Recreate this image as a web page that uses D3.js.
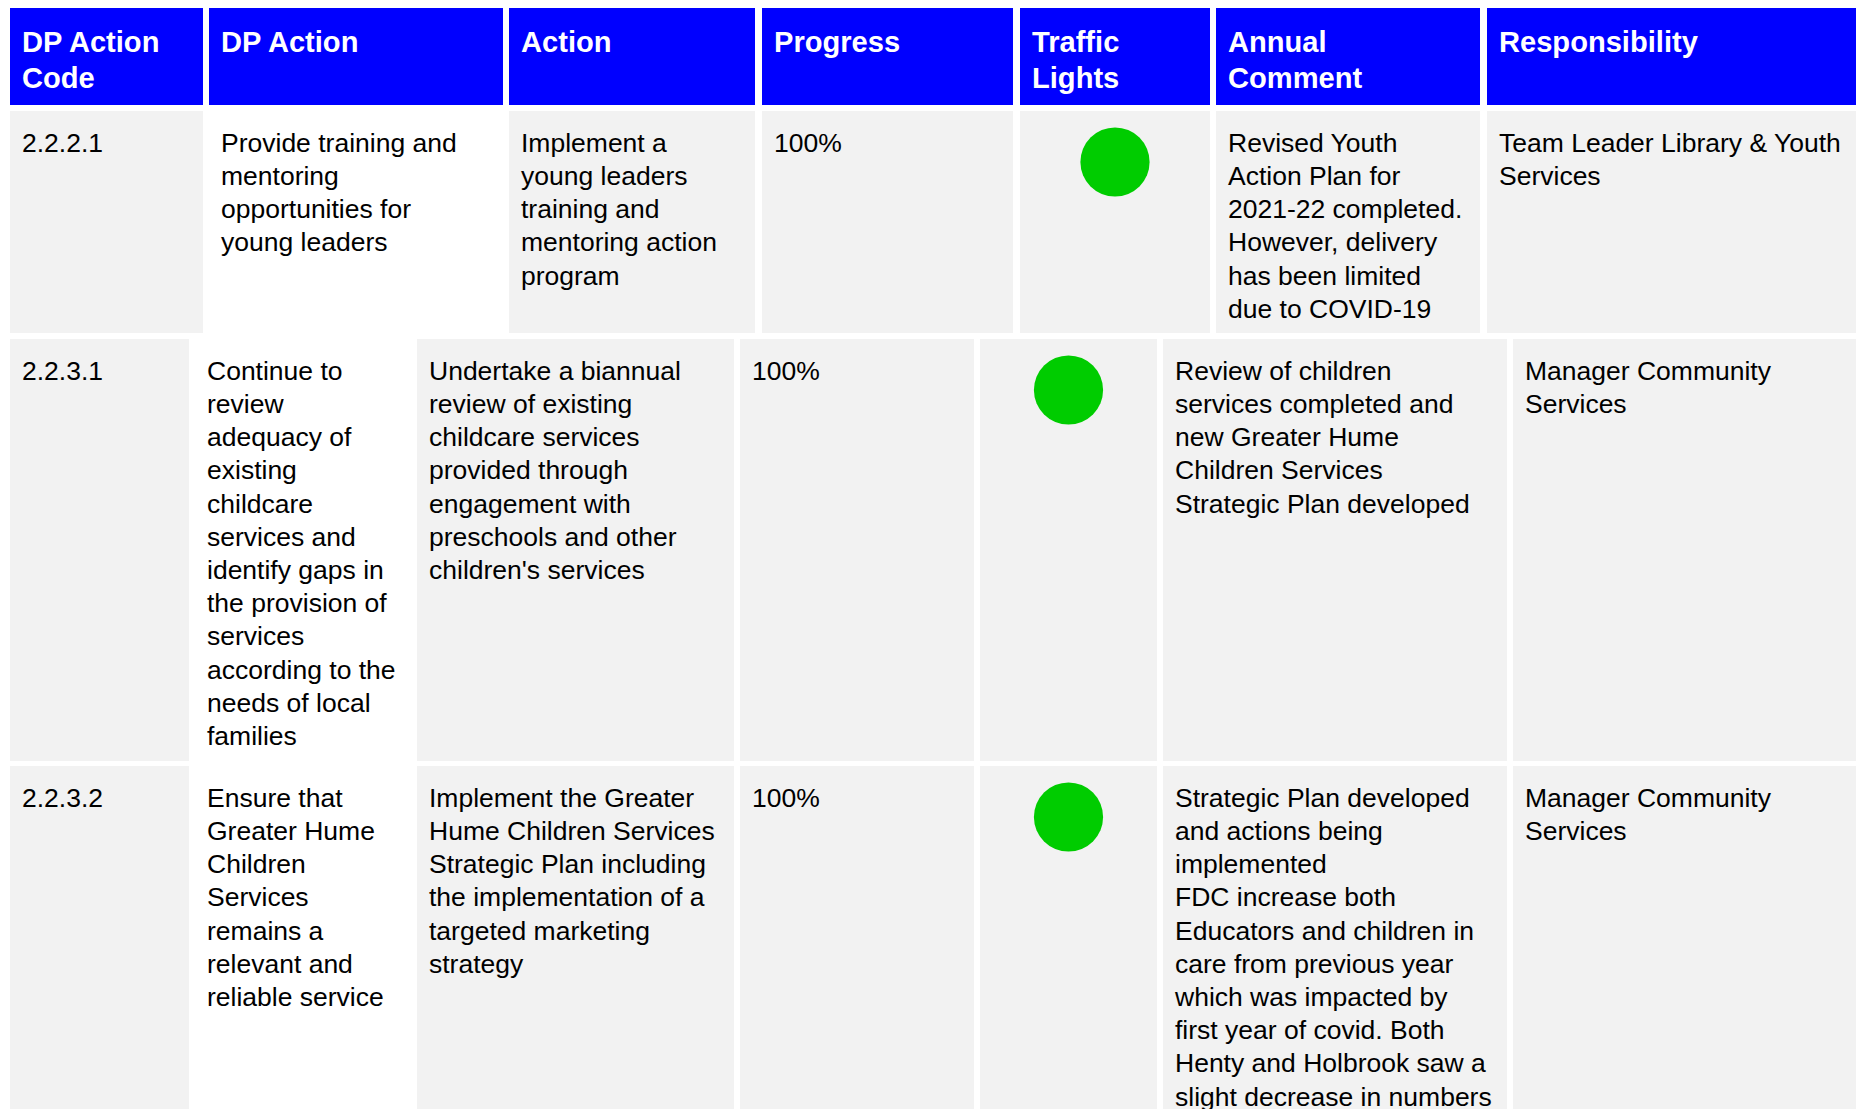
<!DOCTYPE html>
<html>
<head>
<meta charset="utf-8">
<script src="https://cdn.jsdelivr.net/npm/d3@7"></script>
<style>
  html, body { margin: 0; padding: 0; background: #ffffff; overflow: hidden; }
  svg { display: block; }
</style>
</head>
<body>
<svg id="chart" width="1856" height="1109"></svg>
<script>
// ---------- DATA ----------
const headers = [
  ["DP Action", "Code"],
  ["DP Action"],
  ["Action"],
  ["Progress"],
  ["Traffic", "Lights"],
  ["Annual", "Comment"],
  ["Responsibility"]
];

const codes = ["2.2.2.1", "2.2.3.1", "2.2.3.2"];

const dpActions = [
  ["Provide training and", "mentoring", "opportunities for", "young leaders"],
  ["Continue to", "review", "adequacy of", "existing", "childcare", "services and", "identify gaps in", "the provision of", "services", "according to the", "needs of local", "families"],
  ["Ensure that", "Greater Hume", "Children", "Services", "remains a", "relevant and", "reliable service"]
];

const actions = [
  ["Implement a", "young leaders", "training and", "mentoring action", "program"],
  ["Undertake a biannual", "review of existing", "childcare services", "provided through", "engagement with", "preschools and other", "children's services"],
  ["Implement the Greater", "Hume Children Services", "Strategic Plan including", "the implementation of a", "targeted marketing", "strategy"]
];

const progress = ["100%", "100%", "100%"];

const trafficLights = ["green", "green", "green"];

const comments = [
  ["Revised Youth", "Action Plan for", "2021-22 completed.", "However, delivery", "has been limited", "due to COVID-19"],
  ["Review of children", "services completed and", "new Greater Hume", "Children Services", "Strategic Plan developed"],
  ["Strategic Plan developed", "and actions being", "implemented", "FDC increase both", "Educators and children in", "care from previous year", "which was impacted by", "first year of covid. Both", "Henty and Holbrook saw a", "slight decrease in numbers"]
];

const responsibility = [
  ["Team Leader Library & Youth", "Services"],
  ["Manager Community", "Services"],
  ["Manager Community", "Services"]
];

// ---------- LAYOUT (positions & styles kept separate from data) ----------
const W = 1856, H = 1109;
const headerBox = { top: 8, bottom: 105 };
const headerCols = [[10, 203], [209, 503], [509, 755], [762, 1013], [1020, 1210], [1216, 1480], [1487, 1856]];
const bodyCols2 = [[10, 189], [195, 411], [417, 734], [740, 974], [980, 1157], [1163, 1507], [1513, 1856]];
const rowCols = [headerCols, bodyCols2, bodyCols2];
const rowBoxes = [[111, 333], [339, 761], [766, 1140]];
const colFill = ["#f2f2f2", "#ffffff", "#f2f2f2", "#f2f2f2", "#f2f2f2", "#f2f2f2", "#f2f2f2"];
const headerFill = "#0000ff";
const lightColor = d3.scaleOrdinal().domain(["green", "amber", "red"]).range(["#00cc00", "#ffc000", "#ff0000"]);

const FONT = "'Liberation Sans', Arial, Helvetica, sans-serif";
const bodySize = 26.5, bodyLine = 33.2, bodyFirst = 40.7, padX = 12;
const headSize = 29.1, headLine = 36.5, headFirst = 43.7;
const lightR = 34.6, lightDy = 51;

const svg = d3.select("#chart");
svg.append("rect").attr("width", W).attr("height", H).attr("fill", "#ffffff");

// ---------- HEADER ----------
const hg = svg.append("g").attr("class", "header");
const hCells = hg.selectAll("g.hcell").data(headers).join("g").attr("class", "hcell");
hCells.append("rect")
  .attr("x", (d, i) => headerCols[i][0])
  .attr("y", headerBox.top)
  .attr("width", (d, i) => headerCols[i][1] - headerCols[i][0])
  .attr("height", headerBox.bottom - headerBox.top)
  .attr("fill", headerFill);
hCells.append("text")
  .attr("font-family", FONT)
  .attr("font-size", headSize)
  .attr("font-weight", "bold")
  .attr("fill", "#ffffff")
  .each(function (d, i) {
    d3.select(this).selectAll("tspan").data(d).join("tspan")
      .attr("x", headerCols[i][0] + padX)
      .attr("y", (t, j) => headerBox.top + headFirst + j * headLine)
      .text(t => t);
  });

// ---------- BODY ----------
const rows = codes.map((c, r) => ({
  r,
  cells: [[c], dpActions[r], actions[r], [progress[r]], null, comments[r], responsibility[r]],
  light: trafficLights[r]
}));

const bg = svg.append("g").attr("class", "body");
const rowG = bg.selectAll("g.row").data(rows).join("g").attr("class", "row");

rowG.each(function (row) {
  const g = d3.select(this);
  const cols = rowCols[row.r];
  const [y0, y1] = rowBoxes[row.r];
  const cellG = g.selectAll("g.cell").data(row.cells).join("g").attr("class", "cell");
  cellG.append("rect")
    .attr("x", (d, i) => cols[i][0])
    .attr("y", y0)
    .attr("width", (d, i) => cols[i][1] - cols[i][0])
    .attr("height", y1 - y0)
    .attr("fill", (d, i) => colFill[i]);
  cellG.filter(d => d !== null).append("text")
    .attr("font-family", FONT)
    .attr("font-size", bodySize)
    .attr("fill", "#000000")
    .each(function (d) {
      const i = row.cells.indexOf(d);
      d3.select(this).selectAll("tspan").data(d).join("tspan")
        .attr("x", cols[i][0] + padX)
        .attr("y", (t, j) => y0 + bodyFirst + j * bodyLine)
        .text(t => t);
    });
  // traffic light
  g.append("circle")
    .attr("cx", (cols[4][0] + cols[4][1]) / 2)
    .attr("cy", y0 + lightDy)
    .attr("r", lightR)
    .attr("fill", lightColor(row.light));
});
</script>
</body>
</html>
